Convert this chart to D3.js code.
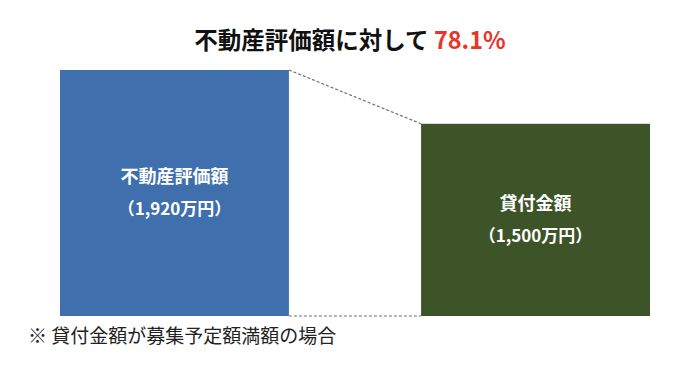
<!DOCTYPE html>
<html>
<head>
<meta charset="utf-8">
<script src="https://cdn.jsdelivr.net/npm/d3@7"></script>
<style>
  body { margin: 0; background: #fff; }
  svg { display: block; font-family: "Noto Sans CJK JP", "Noto Sans", sans-serif; }
</style>
</head>
<body>
<script>
// data
var categories = ["不動産評価額", "貸付金額"];
var values = [1920, 1500];           // 万円
var valueLabels = ["（1,920万円）", "（1,500万円）"];
var barColors = ["#3F70AD", "#3D5429"];
var titleText = "不動産評価額に対して";
var ratioText = "78.1%";
var noteText = "※ 貸付金額が募集予定額満額の場合";

var width = 700, height = 371;

var svg = d3.select("body")
    .append("svg")
    .attr("width", width)
    .attr("height", height);

// scales
var x = d3.scaleBand()
    .domain(categories)
    .range([60, 650])
    .paddingInner(0.366)
    .paddingOuter(0);

var y = d3.scaleLinear()
    .domain([0, d3.max(values)])
    .range([316, 70]);

var data = categories.map(function(c, i) {
    return {name: c, value: values[i], label: valueLabels[i], color: barColors[i]};
});

// connector dashed lines (top and bottom of bars)
var a = data[0], b = data[1];
svg.append("line")
    .attr("x1", x(a.name) + x.bandwidth()).attr("y1", y(a.value))
    .attr("x2", x(b.name)).attr("y2", y(b.value))
    .attr("stroke", "#707070").attr("stroke-width", 1.2)
    .attr("stroke-dasharray", "3,2");
svg.append("line")
    .attr("x1", x(a.name) + x.bandwidth()).attr("y1", y(0))
    .attr("x2", x(b.name)).attr("y2", y(0))
    .attr("stroke", "#707070").attr("stroke-width", 1.2)
    .attr("stroke-dasharray", "3,2");

// bars
svg.selectAll("rect.bar")
    .data(data)
    .join("rect")
        .attr("class", "bar")
        .attr("x", function(d) { return x(d.name); })
        .attr("y", function(d) { return y(d.value); })
        .attr("width", x.bandwidth())
        .attr("height", function(d) { return y(0) - y(d.value); })
        .attr("fill", function(d) { return d.color; });

// labels inside bars
var lab = svg.selectAll("g.lab")
    .data(data)
    .join("g")
        .attr("class", "lab")
        .attr("transform", function(d) {
            return "translate(" + (x(d.name) + x.bandwidth() / 2) + "," + ((y(d.value) + y(0)) / 2) + ")";
        });
lab.append("text")
    .attr("text-anchor", "middle")
    .attr("y", -16)
    .attr("dy", "0.35em")
    .attr("fill", "#fff")
    .attr("font-weight", "bold")
    .attr("font-size", 18)
    .text(function(d) { return d.name; });
lab.append("text")
    .attr("text-anchor", "middle")
    .attr("y", 16)
    .attr("dy", "0.35em")
    .attr("fill", "#fff")
    .attr("font-weight", "bold")
    .attr("font-size", 17)
    .text(function(d) { return d.label; });

// title
var title = svg.append("text")
    .attr("x", 350)
    .attr("y", 41)
    .attr("dy", "0.35em")
    .attr("text-anchor", "middle")
    .attr("font-weight", "bold")
    .attr("font-size", 23.5);
title.append("tspan").attr("fill", "#111").text(titleText + " ");
title.append("tspan").attr("fill", "#E8352A").text(ratioText);

// footnote
svg.append("text")
    .attr("x", 28)
    .attr("y", 336)
    .attr("dy", "0.35em")
    .attr("fill", "#222")
    .attr("font-size", 19)
    .text(noteText);
</script>
</body>
</html>
